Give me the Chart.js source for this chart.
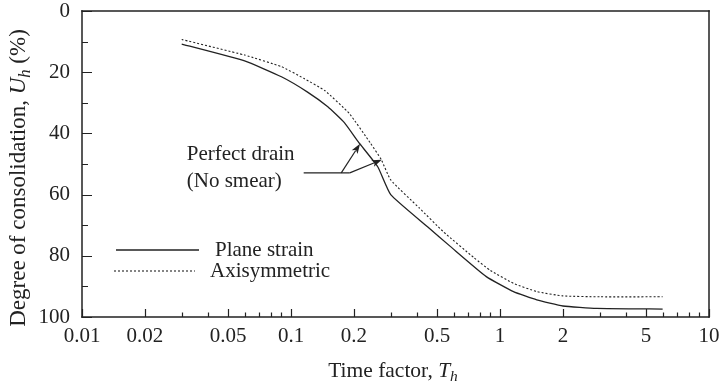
<!DOCTYPE html>
<html lang="en">
<head>
<meta charset="UTF-8">
<title>Degree of consolidation vs time factor</title>
<script src="https://cdn.jsdelivr.net/npm/chart.js"></script>
<style>
  html, body { margin: 0; padding: 0; background: #fff; overflow: hidden; }
  #wrap { width: 720px; height: 390px; }
  #chart { display: block; }
</style>
</head>
<body>
<div id="wrap"><canvas id="chart" width="720" height="390"></canvas></div>
<script>
// series (time factor Th, degree of consolidation Uh %)
const planeT = [0.03, 0.06, 0.09, 0.12, 0.15, 0.18, 0.21, 0.26, 0.30, 0.45, 0.58, 0.86, 1.16, 1.5, 2.0, 2.9, 6.0];
const planeU = [10.8, 16.3, 21.5, 26.5, 31.3, 36.5, 42.8, 50.9, 60.0, 70.5, 77.0, 86.8, 91.7, 94.4, 96.4, 97.2, 97.4];
const axiT = [0.03, 0.06, 0.09, 0.115, 0.145, 0.19, 0.24, 0.27, 0.30, 0.41, 0.535, 0.75, 0.9, 1.16, 1.5, 2.0, 3.0, 6.0];
const axiU = [9.3, 14.4, 18.2, 22.0, 26.0, 33.5, 43.2, 48.5, 55.2, 64.3, 72.1, 80.6, 84.8, 89.0, 91.7, 93.1, 93.4, 93.4];

const xTicks = [0.01, 0.02, 0.03, 0.04, 0.05, 0.06, 0.07, 0.08, 0.09,
                0.1, 0.2, 0.3, 0.4, 0.5, 0.6, 0.7, 0.8, 0.9,
                1, 2, 3, 4, 5, 6, 7, 8, 9, 10];
const xLabels = [0.01, 0.02, 0.05, 0.1, 0.2, 0.5, 1, 2, 5, 10];
const yTicks = [0, 10, 20, 30, 40, 50, 60, 70, 80, 90, 100];
const yLabels = [0, 20, 40, 60, 80, 100];

const seriesNames = ['Plane strain', 'Axisymmetric'];
const noteLines = ['Perfect drain', '(No smear)'];
// annotation anchors in data units [T, U]
const noteText = [0.0317, 47];
const noteLineStart = [0.115, 52.9];
const arrowBases = [[0.174, 52.9], [0.191, 52.9]];
const arrowTips = [[0.214, 43.4], [0.272, 48.6]];

const INK = '#222';
const SERIF = '"Liberation Serif", "DejaVu Serif", serif';

function toPoints(xs, ys) {
  return xs.map((x, i) => ({ x: x, y: ys[i] }));
}
function isLabel(list, v) {
  return list.some(l => Math.abs(l - v) < 1e-9 * Math.max(1, l));
}

function drawRich(ctx, parts, x, y, size) {
  // parts: [text, italic, sub]
  let total = 0;
  const widths = parts.map(p => {
    ctx.font = (p[1] ? 'italic ' : '') + (p[2] ? size * 0.72 : size) + 'px ' + SERIF;
    const w = ctx.measureText(p[0]).width;
    total += w;
    return w;
  });
  let cx = x - total / 2;
  parts.forEach((p, i) => {
    ctx.font = (p[1] ? 'italic ' : '') + (p[2] ? size * 0.72 : size) + 'px ' + SERIF;
    ctx.fillText(p[0], cx, y + (p[2] ? size * 0.28 : 0));
    cx += widths[i];
  });
}

function arrow(ctx, x0, y0, x1, y1) {
  const ang = Math.atan2(y1 - y0, x1 - x0);
  const len = 10, half = 3.5;
  ctx.beginPath();
  ctx.moveTo(x0, y0);
  ctx.lineTo(x1 - Math.cos(ang) * len * 0.8, y1 - Math.sin(ang) * len * 0.8);
  ctx.stroke();
  ctx.beginPath();
  ctx.moveTo(x1, y1);
  ctx.lineTo(x1 - Math.cos(ang) * len + Math.sin(ang) * half, y1 - Math.sin(ang) * len - Math.cos(ang) * half);
  ctx.lineTo(x1 - Math.cos(ang) * len * 0.75, y1 - Math.sin(ang) * len * 0.75);
  ctx.lineTo(x1 - Math.cos(ang) * len - Math.sin(ang) * half, y1 - Math.sin(ang) * len + Math.cos(ang) * half);
  ctx.closePath();
  ctx.fill();
}

const decor = {
  id: 'decor',
  afterDraw(chart) {
    const ctx = chart.ctx;
    const xs = chart.scales.x, ys = chart.scales.y;
    const L = xs.getPixelForValue(0.01), R = xs.getPixelForValue(10);
    const T = ys.getPixelForValue(0), B = ys.getPixelForValue(100);
    ctx.save();
    ctx.strokeStyle = INK;
    ctx.fillStyle = INK;

    // frame
    ctx.fillRect(L - 0.75, T - 0.75, R - L + 1.5, 1.5);
    ctx.fillRect(L - 0.75, B - 0.75, R - L + 1.5, 1.5);
    ctx.fillRect(L - 0.75, T - 0.75, 1.5, B - T + 1.5);
    ctx.fillRect(R - 0.75, T - 0.75, 1.5, B - T + 1.5);

    // inward ticks
    ctx.lineWidth = 1.2;
    ctx.beginPath();
    xTicks.forEach(v => {
      const px = Math.round(xs.getPixelForValue(v)) + 0.5;
      const len = isLabel(xLabels, v) ? 8 : 4.5;
      ctx.moveTo(px, B);
      ctx.lineTo(px, B - len);
    });
    yTicks.forEach(v => {
      const py = Math.round(ys.getPixelForValue(v)) + 0.5;
      const len = isLabel(yLabels, v) ? 10 : 6;
      ctx.moveTo(L, py);
      ctx.lineTo(L + len, py);
    });
    ctx.stroke();

    // legend
    ctx.lineWidth = 1.3;
    ctx.beginPath();
    ctx.moveTo(L + 34, T + 239);
    ctx.lineTo(L + 117, T + 239);
    ctx.stroke();
    ctx.setLineDash([2, 2]);
    ctx.lineWidth = 1.1;
    ctx.beginPath();
    ctx.moveTo(L + 32, T + 260);
    ctx.lineTo(L + 113, T + 260);
    ctx.stroke();
    ctx.setLineDash([]);
    ctx.font = '21px ' + SERIF;
    ctx.textBaseline = 'middle';
    ctx.textAlign = 'left';
    ctx.fillText(seriesNames[0], L + 133, T + 239);
    ctx.fillText(seriesNames[1], L + 128, T + 260);

    // annotation
    const tx = xs.getPixelForValue(noteText[0]);
    const ty = ys.getPixelForValue(noteText[1]);
    ctx.fillText(noteLines[0], tx, ty);
    ctx.fillText(noteLines[1], tx, ty + 27);
    ctx.lineWidth = 1.3;
    const ly = ys.getPixelForValue(noteLineStart[1]);
    ctx.beginPath();
    ctx.moveTo(xs.getPixelForValue(noteLineStart[0]), ly);
    ctx.lineTo(xs.getPixelForValue(arrowBases[1][0]), ly);
    ctx.stroke();
    ctx.lineWidth = 1.2;
    arrowBases.forEach((b, i) => {
      arrow(ctx, xs.getPixelForValue(b[0]), ys.getPixelForValue(b[1]),
            xs.getPixelForValue(arrowTips[i][0]), ys.getPixelForValue(arrowTips[i][1]));
    });

    // axis titles
    ctx.textAlign = 'left';
    ctx.textBaseline = 'middle';
    drawRich(ctx, [['Time factor, ', false, false], ['T', true, false], ['h', true, true]], 393, 371, 21.5);
    ctx.translate(19, 178);
    ctx.rotate(-Math.PI / 2);
    drawRich(ctx, [['Degree of consolidation, ', false, false], ['U', true, false], ['h', true, true], [' (%)', false, false]], 0, 0, 23);
    ctx.restore();
  }
};

new Chart(document.getElementById('chart'), {
  type: 'line',
  data: {
    datasets: [
      {
        label: seriesNames[0],
        data: toPoints(planeT, planeU),
        borderColor: INK,
        borderWidth: 1.3,
        pointRadius: 0,
        tension: 0.15,
        fill: false
      },
      {
        label: seriesNames[1],
        data: toPoints(axiT, axiU),
        borderColor: INK,
        borderWidth: 1.1,
        borderDash: [2, 2],
        pointRadius: 0,
        tension: 0.15,
        fill: false
      }
    ]
  },
  options: {
    responsive: false,
    animation: false,
    devicePixelRatio: 1,
    layout: { padding: { left: 0, top: 11, right: 11, bottom: 0 } },
    plugins: { legend: { display: false }, tooltip: { enabled: false } },
    scales: {
      x: {
        type: 'logarithmic',
        min: 0.01,
        max: 10,
        afterBuildTicks: s => { s.ticks = xTicks.map(v => ({ value: v })); },
        afterFit: s => { s.height = 73; s.paddingLeft = 0; s.paddingRight = 0; },
        grid: { display: false, drawTicks: false },
        border: { display: false },
        ticks: {
          autoSkip: false,
          maxRotation: 0,
          padding: 7,
          color: INK,
          font: { family: SERIF, size: 21 },
          callback: v => isLabel(xLabels, v) ? String(Number(v.toPrecision(3))) : ''
        }
      },
      y: {
        reverse: true,
        min: 0,
        max: 100,
        afterBuildTicks: s => { s.ticks = yTicks.map(v => ({ value: v })); },
        afterFit: s => { s.width = 82; s.paddingTop = 0; s.paddingBottom = 0; },
        grid: { display: false, drawTicks: false },
        border: { display: false },
        ticks: {
          padding: 12,
          color: INK,
          font: { family: SERIF, size: 21 },
          callback: v => isLabel(yLabels, v) ? String(v) : ''
        }
      }
    }
  },
  plugins: [decor]
});
</script>
</body>
</html>
